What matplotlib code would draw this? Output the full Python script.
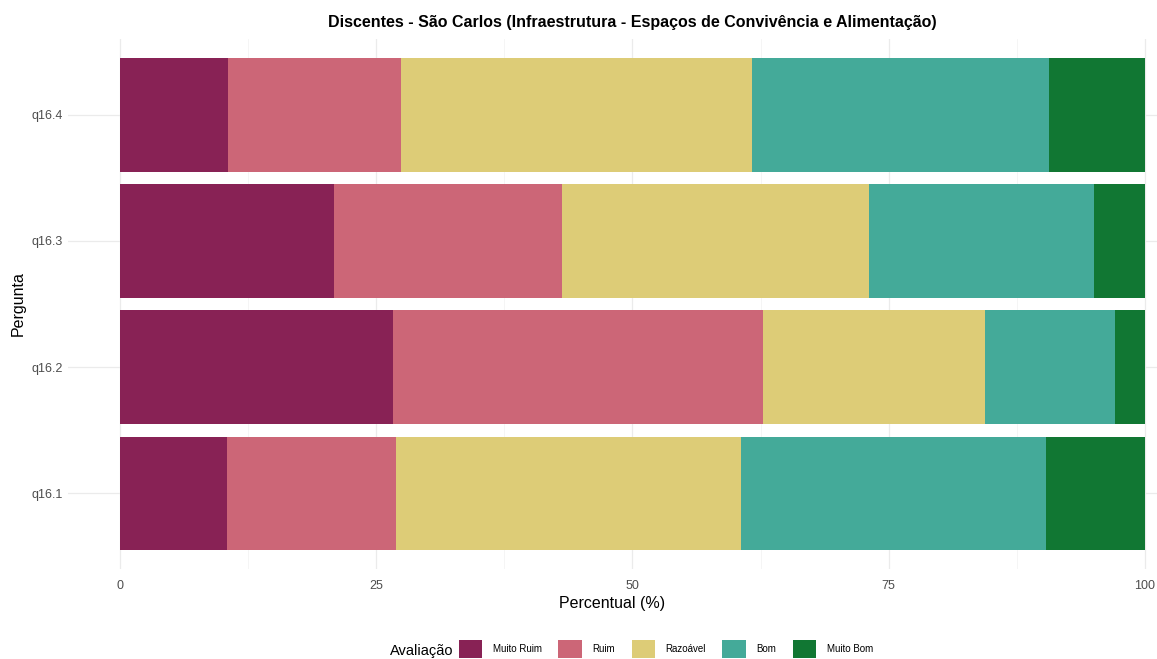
import matplotlib.pyplot as plt
import numpy as np
from matplotlib.patches import Patch

plt.rcParams["font.family"] = ["Liberation Sans", "DejaVu Sans"]

perguntas = ["q16.1", "q16.2", "q16.3", "q16.4"]
categorias = ["Muito Ruim", "Ruim", "Razoável", "Bom", "Muito Bom"]
cores = ["#882255", "#CC6677", "#DDCC77", "#44AA99", "#117733"]

# percentual de respostas por pergunta (linhas seguem "perguntas")
muito_ruim = [10.4, 26.6, 20.9, 10.5]
ruim = [16.5, 36.1, 22.2, 16.9]
razoavel = [33.7, 21.7, 30.0, 34.3]
bom = [29.7, 12.7, 21.9, 28.9]
muito_bom = [9.7, 2.9, 5.0, 9.4]

series = [muito_ruim, ruim, razoavel, bom, muito_bom]

fig = plt.figure(figsize=(11.57, 6.59), dpi=100)
W, H = 1157, 659
ax = fig.add_axes([68 / W, 1 - 569 / H, (1157 - 68) / W, (569 - 39) / H])

y = np.arange(1, len(perguntas) + 1)
left = np.zeros(len(perguntas))
for vals, cor, nome in zip(series, cores, categorias):
    vals = np.array(vals)
    ax.barh(y, vals, left=left, height=0.9, color=cor, label=nome, zorder=2)
    left += vals

ax.set_xlim(-5.07, 101.17)
ax.set_ylim(0.4, 4.6)

# grade estilo theme_minimal
for xv in [0, 25, 50, 75, 100]:
    ax.axvline(xv, color="#EBEBEB", lw=0.9, zorder=0)
for xv in [12.5, 37.5, 62.5, 87.5]:
    ax.axvline(xv, color="#F4F4F4", lw=0.6, zorder=0)
for yv in y:
    ax.axhline(yv, color="#EBEBEB", lw=0.9, zorder=0)

for s in ax.spines.values():
    s.set_visible(False)

ax.set_xticks([0, 25, 50, 75, 100])
ax.set_xticklabels(["0", "25", "50", "75", "100"])
ax.set_yticks(y)
ax.set_yticklabels(perguntas)
ax.tick_params(length=0, labelsize=9, labelcolor="#4D4D4D")
ax.tick_params(axis="x", pad=8)
ax.tick_params(axis="y", pad=4)

ax.set_xlabel("Percentual (%)", fontsize=11.5, labelpad=3)
ax.set_ylabel("Pergunta", fontsize=11.5, labelpad=4)
fig.text(632 / W, 1 - 22 / H, "Discentes - São Carlos (Infraestrutura - Espaços de Convivência e Alimentação)",
         ha="center", va="center", fontsize=11.5, fontweight="bold")

handles = [Patch(facecolor=c, edgecolor="none") for c in cores]
fig.legend(handles, categorias, loc="center",
           bbox_to_anchor=(666 / W, 1 - 649 / H), ncol=5, frameon=False,
           fontsize=7, handlelength=2.4, handleheight=2.4,
           handletextpad=1.1, columnspacing=1.7, borderaxespad=0)
fig.text(390 / W, 1 - 651 / H, "Avaliação", ha="left", va="center", fontsize=10.5)

fig.savefig("out.png", dpi=100)
